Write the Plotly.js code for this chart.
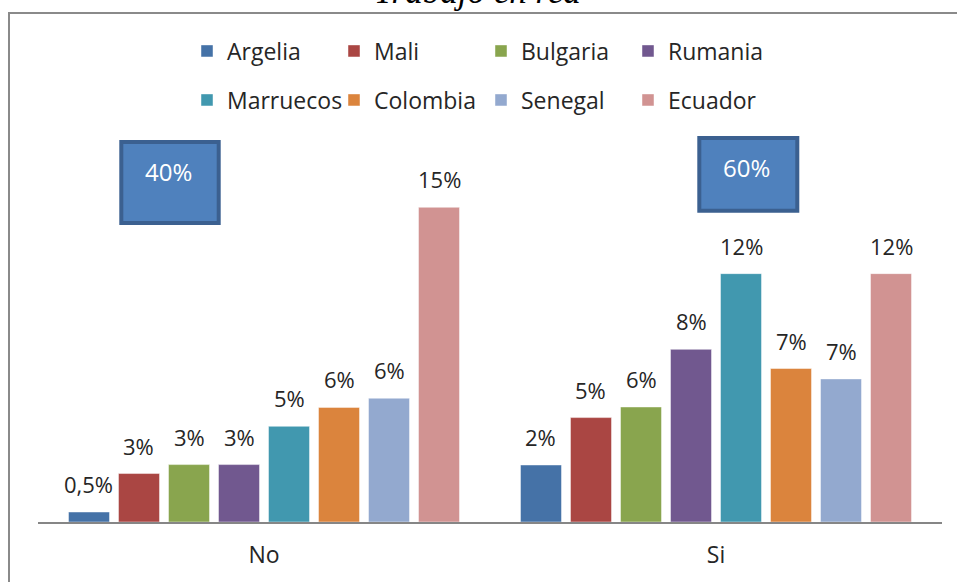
<!DOCTYPE html>
<html>
<head>
<meta charset="utf-8">
<script src="https://cdn.plot.ly/plotly-3.0.1.min.js"></script>
<style>html,body{margin:0;padding:0;background:#fff;}#chart{width:957px;height:582px;}</style>
</head>
<body>
<div id="chart"></div>
<script>
// ---- Data ----
const titulo = "Trabajo en red";
const categorias = ["No", "Si"];
const paises = ["Argelia", "Mali", "Bulgaria", "Rumania", "Marruecos", "Colombia", "Senegal", "Ecuador"];
const valoresNo = [0.48, 2.33, 2.76, 2.76, 4.6, 5.51, 5.95, 15.13];
const valoresSi = [2.74, 5.02, 5.53, 8.30, 11.94, 7.38, 6.88, 11.94];
const etiquetasNo = ["0,5%", "3%", "3%", "3%", "5%", "6%", "6%", "15%"];
const etiquetasSi = ["2%", "5%", "6%", "8%", "12%", "7%", "7%", "12%"];
const totales = ["40%", "60%"];

// ---- Styles ----
const colores = ["#4572A7", "#AA4643", "#89A54E", "#71588F", "#4198AF", "#DB843D", "#93A9CF", "#D19392"];
const FONT = "Open Sans, DejaVu Sans, sans-serif";
const TXT = "#262626";
const L = 38, R = 942, T = 120, B = 522;
const W = R - L, H = B - T;
const px2x = p => (p - L) / W;
const py2y = p => (B - p) / H;
const bargap = 0.115;
const yMax = H / 20.8;

const traces = paises.map((p, i) => ({
  type: "bar",
  name: p,
  x: categorias,
  y: [valoresNo[i], valoresSi[i]],
  marker: { color: colores[i], line: { color: "rgba(255,255,255,0.45)", width: 1 } },
  legend: i < 4 ? "legend" : "legend2",
  hoverinfo: "skip"
}));

const annotations = [];
// title (cropped at top, as in the reference)
annotations.push({
  xref: "paper", yref: "paper", x: px2x(477), y: py2y(13), xanchor: "center", yanchor: "bottom",
  text: "<i>" + titulo + "</i>", showarrow: false,
  font: { family: "Liberation Serif, Times New Roman, serif", size: 35, color: "#000" }
});
// bar labels
const seriesVals = [valoresNo, valoresSi];
const seriesLbl = [etiquetasNo, etiquetasSi];
const slot = (1 - bargap) / paises.length;
categorias.forEach((c, j) => {
  paises.forEach((p, i) => {
    annotations.push({
      xref: "x", yref: "y",
      x: j + (i - (paises.length - 1) / 2) * slot,
      y: seriesVals[j][i],
      text: seriesLbl[j][i], showarrow: false,
      xanchor: "center", yanchor: "bottom", yshift: 11,
      font: { family: FONT, size: 22, color: TXT }
    });
  });
});
// total boxes
const boxes = [
  { x0: 121.3, x1: 218.7, y0: 142, y1: 223, tx: 168, ty: 171.5 },
  { x0: 699.3, x1: 797.3, y0: 138, y1: 210.7, tx: 746, ty: 167 }
];
const shapes = [
  { type: "line", xref: "paper", yref: "paper", x0: px2x(8), x1: px2x(960), y0: py2y(13), y1: py2y(13), line: { color: "#8a8a8a", width: 2 } },
  { type: "line", xref: "paper", yref: "paper", x0: px2x(9), x1: px2x(9), y0: py2y(12), y1: py2y(590), line: { color: "#8a8a8a", width: 2 } }
];
boxes.forEach((b, k) => {
  shapes.push({
    type: "rect", xref: "paper", yref: "paper",
    x0: px2x(b.x0), x1: px2x(b.x1), y0: py2y(b.y1), y1: py2y(b.y0),
    fillcolor: "#4F81BD", line: { color: "#3B6090", width: 4 }
  });
  annotations.push({
    xref: "paper", yref: "paper", x: px2x(b.tx), y: py2y(b.ty),
    xanchor: "center", yanchor: "middle", text: totales[k], showarrow: false,
    font: { family: FONT, size: 24, color: "#ffffff" }
  });
});

const legendCommon = {
  orientation: "h", xanchor: "left", yanchor: "middle",
  font: { family: FONT, size: 23, color: TXT },
  bgcolor: "rgba(0,0,0,0)", borderwidth: 0,
  entrywidth: 102, entrywidthmode: "pixels",
  itemclick: false, itemdoubleclick: false
};

const layout = {
  width: 957, height: 582,
  paper_bgcolor: "#ffffff", plot_bgcolor: "#ffffff",
  margin: { l: L, r: 957 - R, t: T, b: 582 - B, autoexpand: false },
  barmode: "group", bargap: bargap, bargroupgap: 0.18,
  showlegend: true,
  legend: Object.assign({}, legendCommon, { x: px2x(187), y: py2y(51) }),
  legend2: Object.assign({}, legendCommon, { x: px2x(187), y: py2y(100) }),
  xaxis: {
    type: "category", showline: true, linecolor: "#868686", linewidth: 1.5,
    ticks: "", showgrid: false, zeroline: false, ticklabelstandoff: 12,
    tickfont: { family: FONT, size: 23, color: TXT }, fixedrange: true
  },
  yaxis: { visible: false, range: [0, yMax], showgrid: false, zeroline: false, fixedrange: true },
  shapes: shapes,
  annotations: annotations
};

Plotly.newPlot("chart", traces, layout, { displayModeBar: false, staticPlot: true });
</script>
</body>
</html>
